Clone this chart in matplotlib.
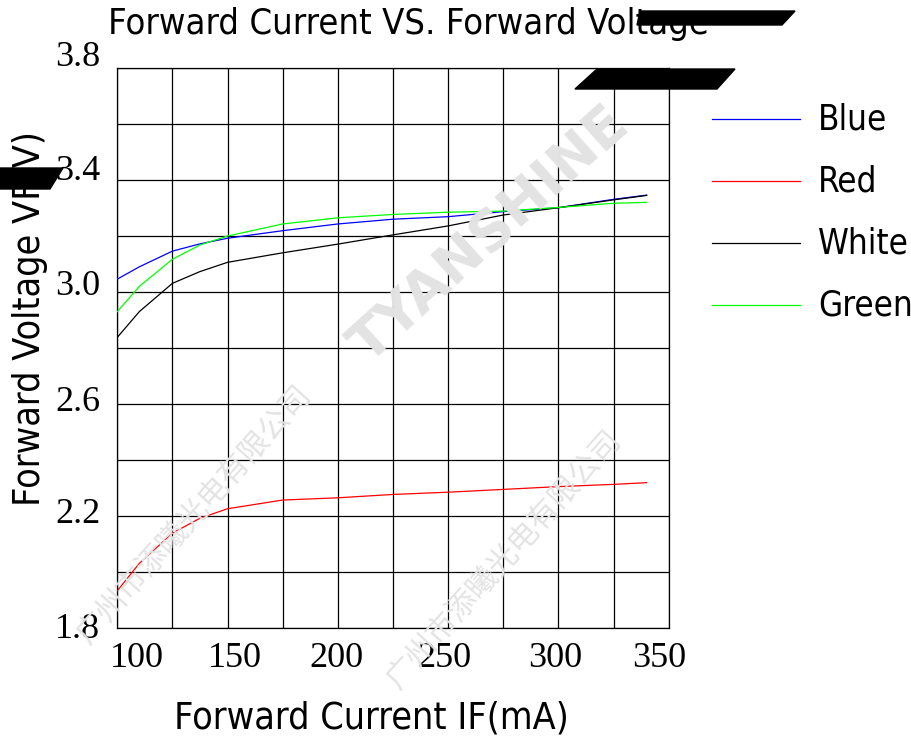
import numpy as np
import matplotlib
matplotlib.use("Agg")
import matplotlib.pyplot as plt
from matplotlib.lines import Line2D
from matplotlib.patches import Polygon
import matplotlib.transforms as mtransforms

# data
current = [100, 110, 125, 137.5, 150, 175, 200, 225, 250, 275, 300, 325, 340]
blue = [3.046, 3.090, 3.146, 3.172, 3.192, 3.219, 3.243, 3.260, 3.269, 3.287, 3.301, 3.331, 3.346]
red = [1.933, 2.031, 2.139, 2.192, 2.226, 2.257, 2.265, 2.277, 2.285, 2.295, 2.305, 2.313, 2.319]
white = [2.838, 2.930, 3.031, 3.073, 3.106, 3.140, 3.171, 3.204, 3.236, 3.275, 3.301, 3.329, 3.345]
green = [2.930, 3.020, 3.117, 3.168, 3.200, 3.243, 3.265, 3.277, 3.285, 3.289, 3.302, 3.317, 3.320]

series_names = ["Blue", "Red", "White", "Green"]
series_colors = ["#0000ff", "#ff0000", "#000000", "#00ff00"]

xtick_labels = ["100", "150", "200", "250", "300", "350"]
ytick_labels = ["1.8", "2.2", "2.6", "3.0", "3.4", "3.8"]
# where the original drew its tick labels (slightly off the grid)
xtick_pos = [108.9, 153.2, 199.3, 248.5, 298.6, 345.6]
ytick_pos = [1.793, 2.204, 2.607, 3.018, 3.429, 3.839]

W, H = 912, 742
def fx(px):
    return px / W
def fy(py):
    return 1 - py / H

narrow = dict(family="DejaVu Sans", fontstretch="condensed")
serif = ["Liberation Serif", "DejaVu Serif"]

fig = plt.figure(figsize=(W / 100, H / 100), dpi=100)
ax = fig.add_axes([fx(117.3), fy(628), (668.7 - 117.3) / W, 560 / H])

# faint watermarks of the scanned datasheet
wm = "#e3e3e3"
fig.text(fx(490), fy(235), "TYANSHINE", rotation=42, fontsize=40, color=wm,
         fontweight="bold", ha="center", va="center", family="DejaVu Sans", zorder=0)
fig.text(fx(195), fy(515), "广州市添曦光电有限公司", rotation=48, fontsize=22, color=wm,
         ha="center", va="center", family="Noto Sans CJK SC", zorder=0)
fig.text(fx(505), fy(560), "广州市添曦光电有限公司", rotation=48, fontsize=22, color=wm,
         ha="center", va="center", family="Noto Sans CJK SC", zorder=0)

for vals, name, col in zip([blue, red, white, green], series_names, series_colors):
    ax.plot(current, vals, color=col, lw=0.9, zorder=3)

ax.set_xlim(100, 350)
ax.set_ylim(1.8, 3.8)
ax.set_xticks(np.arange(100, 351, 25))
ax.set_yticks(np.arange(1.8, 3.81, 0.2))
ax.tick_params(length=0, labelbottom=False, labelleft=False)
ax.grid(True, color="black", lw=0.9)
for s in ax.spines.values():
    s.set_color("black")
    s.set_linewidth(0.9)
ax.patch.set_alpha(0)

tx = mtransforms.blended_transform_factory(ax.transData, ax.transAxes)
for pos, lab in zip(xtick_pos, xtick_labels):
    ax.text(pos, -0.025, lab, transform=tx, ha="center", va="top",
            fontsize=26, family=serif, clip_on=False)
ty = mtransforms.blended_transform_factory(ax.transAxes, ax.transData)
for pos, lab in zip(ytick_pos, ytick_labels):
    ax.text(-0.031, pos, lab, transform=ty, ha="right", va="center",
            fontsize=26, family=serif, clip_on=False)

fig.text(fx(408), fy(24), "Forward Current VS. Forward Voltage", ha="center", va="center",
         fontsize=26, **narrow)
fig.text(fx(371), fy(718), "Forward Current IF(mA)", ha="center", va="center",
         fontsize=27, **narrow)
fig.text(fx(30), fy(318), "Forward Voltage VF(V)", ha="center", va="center",
         rotation=90, fontsize=27, **narrow)

# legend drawn by hand, outside the axes
for i, (name, col) in enumerate(zip(series_names, series_colors)):
    yy = fy(119 + 62 * i)
    fig.add_artist(Line2D([fx(712), fx(800)], [yy, yy], color=col, lw=0.9))
    fig.text(fx(818), yy, name, ha="left", va="center", fontsize=25, **narrow)

# black smudges on the scanned original
smudges = [
    [(640, 11), (795, 11), (782, 25), (637, 25)],
    [(597, 69), (735, 69), (717, 89), (575, 89)],
    [(0, 168), (63, 168), (50, 189), (0, 189)],
]
for pts in smudges:
    fig.add_artist(Polygon([(fx(a), fy(b)) for a, b in pts], closed=True,
                           transform=fig.transFigure, color="black", zorder=5))

fig.savefig("out.png", dpi=100)
